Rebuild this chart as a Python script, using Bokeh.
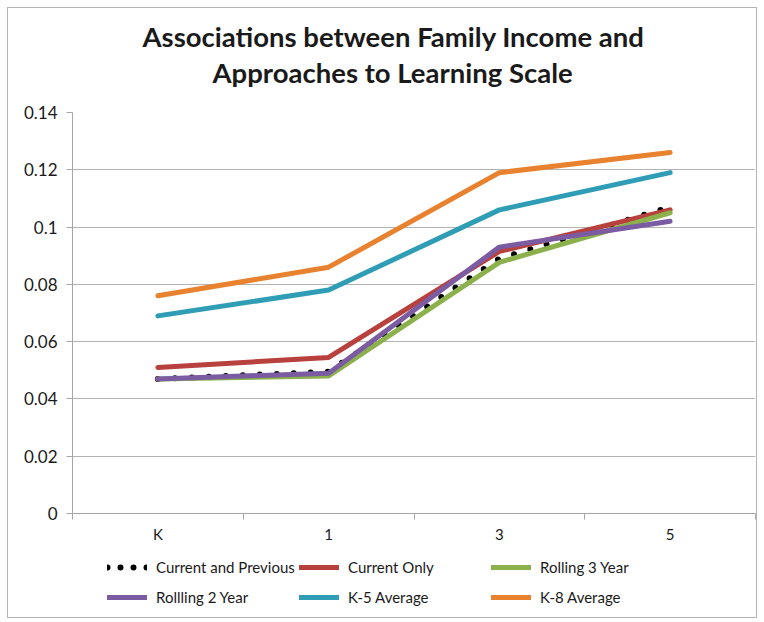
from bokeh.plotting import figure
from bokeh.layouts import column
from bokeh.models import FixedTicker, Legend, LegendItem, Range1d, Title
from bokeh.embed import file_html
from bokeh.resources import INLINE

grades = ["K", "1", "3", "5"]
current_and_previous = [0.047, 0.0495, 0.089, 0.107]
current_only = [0.051, 0.0545, 0.0915, 0.106]
rolling_3_year = [0.047, 0.048, 0.0877, 0.105]
rolling_2_year = [0.047, 0.049, 0.093, 0.102]
k5_average = [0.069, 0.078, 0.106, 0.119]
k8_average = [0.076, 0.086, 0.119, 0.126]
y_ticks = [0, 0.02, 0.04, 0.06, 0.08, 0.1, 0.12, 0.14]
y_tick_labels = ["0", "0.02", "0.04", "0.06", "0.08", "0.1", "0.12", "0.14"]
title_lines = ["Associations between Family Income and", "Approaches to Learning Scale"]

series = [
    ("Current and Previous", current_and_previous, "black"),
    ("Current Only", current_only, "#B8403D"),
    ("Rolling 3 Year", rolling_3_year, "#8BB04C"),
    ("Rollling 2 Year", rolling_2_year, "#7B5CA3"),
    ("K-5 Average", k5_average, "#2F9DB5"),
    ("K-8 Average", k8_average, "#E8822F"),
]

x = list(range(len(grades)))

p = figure(frame_width=683, frame_height=401, output_backend="svg", toolbar_location=None,
           title=None,
           x_range=Range1d(-0.5, 3.5), y_range=Range1d(0, 0.14),
           min_border_left=64, min_border_right=1, min_border_top=104, min_border_bottom=32)
p.outline_line_color = None

# two-line title: added from the plot outward
title_offsets = [140, 70]
title_standoffs = [47, -45]
for i, line in enumerate(reversed(title_lines)):
    t = Title(text=line, align="left", text_font="Lato", text_font_style="bold",
              text_font_size="27.5px", text_color="#1a1a1a", offset=title_offsets[i],
              standoff=title_standoffs[i])
    p.add_layout(t, "above")

# axes
p.yaxis.ticker = FixedTicker(ticks=y_ticks)
p.yaxis.major_label_overrides = dict(zip(y_ticks, y_tick_labels))
p.yaxis.minor_tick_line_color = None
p.yaxis.major_tick_in = 0
p.yaxis.major_tick_out = 6
p.yaxis.major_label_standoff = 9
p.yaxis.axis_line_color = "#a6a6a6"
p.yaxis.major_tick_line_color = "#a6a6a6"
p.yaxis.major_label_text_font = "Lato"
p.yaxis.major_label_text_font_size = "17px"
p.yaxis.major_label_text_color = "#1a1a1a"

p.xaxis.ticker = FixedTicker(ticks=x, minor_ticks=[-0.5, 0.5, 1.5, 2.5, 3.5])
p.xaxis.major_label_overrides = dict(zip(x, grades))
p.xaxis.major_tick_line_color = None
p.xaxis.major_tick_in = 0
p.xaxis.major_tick_out = 0
p.xaxis.minor_tick_in = 0
p.xaxis.minor_tick_out = 6
p.xaxis.minor_tick_line_color = "#a6a6a6"
p.xaxis.axis_line_color = "#a6a6a6"
p.xaxis.major_label_standoff = 5
p.xaxis.major_label_text_font = "Lato"
p.xaxis.major_label_text_font_size = "15px"
p.xaxis.major_label_text_color = "#1a1a1a"

p.xgrid.grid_line_color = None
p.ygrid.ticker = FixedTicker(ticks=y_ticks)
p.ygrid.grid_line_color = "#b3b3b3"
p.ygrid.grid_line_width = 1

# legend strip below the chart (its copies of the series lie outside its view)
p2 = figure(width=748, height=72, output_backend="svg", toolbar_location=None,
            x_axis_location=None, y_axis_location=None,
            x_range=Range1d(-0.5, 3.5), y_range=Range1d(10, 11), min_border=0)
p2.grid.visible = False
p2.outline_line_color = None

items = []
for i, (name, vals, color) in enumerate(series):
    if i == 0:
        style = dict(line_color=color, line_width=6, line_dash="0 17", line_cap="round")
        key_style = dict(line_color=color, line_width=6, line_dash="0 13", line_cap="round")
    else:
        style = dict(line_color=color, line_width=5, line_cap="round", line_join="round")
        key_style = dict(line_color=color, line_width=5, line_cap="round")
    p.line(x, vals, **style)
    key = p2.line(x, vals, **key_style)
    items.append(LegendItem(label=name, renderers=[key]))

legend = Legend(items=items, location=(35, 5), orientation="horizontal", ncols=3)
legend.glyph_width = 40
legend.glyph_height = 30
legend.label_height = 30
legend.label_width = 143
legend.label_standoff = 9
legend.spacing = 0
legend.padding = 0
legend.margin = 0
legend.border_line_color = None
legend.background_fill_alpha = 0
legend.label_text_font = "Lato"
legend.label_text_font_size = "15px"
legend.label_text_color = "#1a1a1a"
p2.add_layout(legend)

lay = column(p, p2, spacing=0)
lay.styles = {"margin-left": "7px", "margin-top": "7px", "border": "1px solid #b4b4b4"}

open("out.html", "w").write(file_html(lay, INLINE))
